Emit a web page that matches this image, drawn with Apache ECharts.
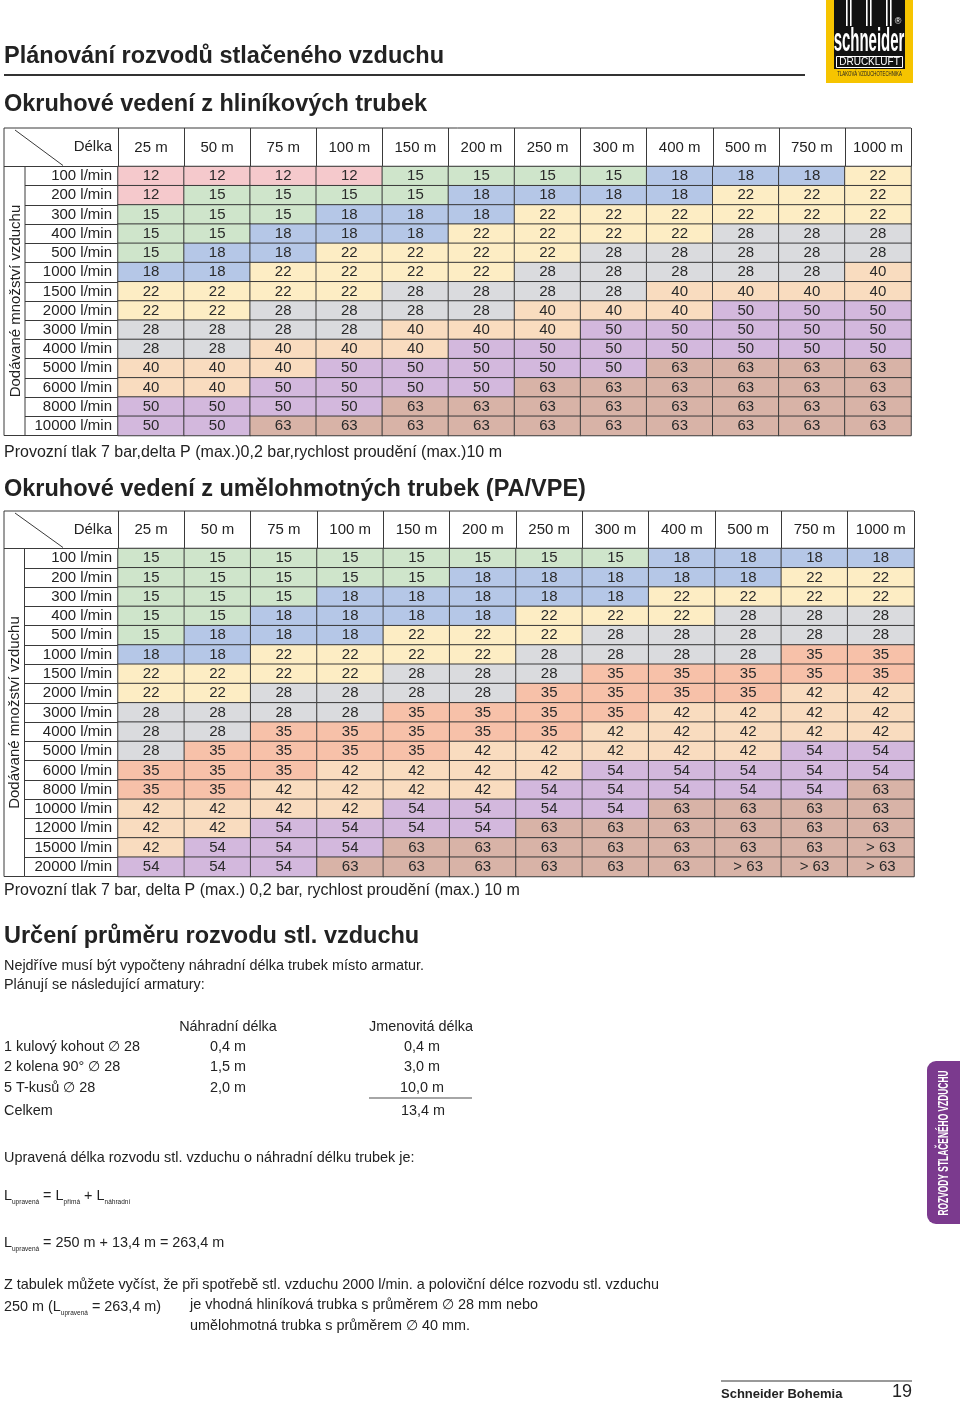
<!DOCTYPE html>
<html><head><meta charset="utf-8">
<script src="https://cdn.jsdelivr.net/npm/echarts@6/dist/echarts.min.js"></script>
<style>html,body{margin:0;padding:0;background:#fff}#c{width:960px;height:1401px}</style>
</head><body><div id="c"></div>
<script>
// ---------- data ----------
const lengths = ['25 m','50 m','75 m','100 m','150 m','200 m','250 m','300 m','400 m','500 m','750 m','1000 m'];
const flowsAlu = ['100 l/min','200 l/min','300 l/min','400 l/min','500 l/min','1000 l/min','1500 l/min','2000 l/min','3000 l/min','4000 l/min','5000 l/min','6000 l/min','8000 l/min','10000 l/min'];
const aluSizes = [
  [12,12,12,12,15,15,15,15,18,18,18,22],
  [12,15,15,15,15,18,18,18,18,22,22,22],
  [15,15,15,18,18,18,22,22,22,22,22,22],
  [15,15,18,18,18,22,22,22,22,28,28,28],
  [15,18,18,22,22,22,22,28,28,28,28,28],
  [18,18,22,22,22,22,28,28,28,28,28,40],
  [22,22,22,22,28,28,28,28,40,40,40,40],
  [22,22,28,28,28,28,40,40,40,50,50,50],
  [28,28,28,28,40,40,40,50,50,50,50,50],
  [28,28,40,40,40,50,50,50,50,50,50,50],
  [40,40,40,50,50,50,50,50,63,63,63,63],
  [40,40,50,50,50,50,63,63,63,63,63,63],
  [50,50,50,50,63,63,63,63,63,63,63,63],
  [50,50,63,63,63,63,63,63,63,63,63,63]
];
const flowsPa = ['100 l/min','200 l/min','300 l/min','400 l/min','500 l/min','1000 l/min','1500 l/min','2000 l/min','3000 l/min','4000 l/min','5000 l/min','6000 l/min','8000 l/min','10000 l/min','12000 l/min','15000 l/min','20000 l/min'];
const paSizes = [
  [15,15,15,15,15,15,15,15,18,18,18,18],
  [15,15,15,15,15,18,18,18,18,18,22,22],
  [15,15,15,18,18,18,18,18,22,22,22,22],
  [15,15,18,18,18,18,22,22,22,28,28,28],
  [15,18,18,18,22,22,22,28,28,28,28,28],
  [18,18,22,22,22,22,28,28,28,28,35,35],
  [22,22,22,22,28,28,28,35,35,35,35,35],
  [22,22,28,28,28,28,35,35,35,35,42,42],
  [28,28,28,28,35,35,35,35,42,42,42,42],
  [28,28,35,35,35,35,35,42,42,42,42,42],
  [28,35,35,35,35,42,42,42,42,42,54,54],
  [35,35,35,42,42,42,42,54,54,54,54,54],
  [35,35,42,42,42,42,54,54,54,54,54,63],
  [42,42,42,42,54,54,54,54,63,63,63,63],
  [42,42,54,54,54,54,63,63,63,63,63,63],
  [42,54,54,54,63,63,63,63,63,63,63,'> 63'],
  [54,54,54,63,63,63,63,63,63,'> 63','> 63','> 63']
];
const fittingNames = ['1 kulový kohout \u2205 28','2 kolena 90° \u2205 28','5 T-kusů \u2205 28'];
const fittingEquiv = ['0,4 m','1,5 m','2,0 m'];
const fittingTotal = ['0,4 m','3,0 m','10,0 m'];
const fittingSum = '13,4 m';

// ---------- styles ----------
const sizeColors = {
  '12':'#f5c9cc','15':'#cfe5cb','18':'#b5c7e7','22':'#fdedc4','28':'#dadbde',
  '35':'#f7c1a9','40':'#f9dcbf','42':'#f9dcbf','50':'#d3b8dd','54':'#d3b8dd',
  '63':'#d8b3a7','> 63':'#d8b3a7'
};
const FONT = "'Liberation Sans', Arial, Helvetica, sans-serif";
const LINE = '#3a3a3a';
const TXT = '#222';
const BODY = 14.4;

function cells(rows){
  const out = [];
  rows.forEach((row, r) => row.forEach((v, c) => {
    out.push({ value:[c, r, typeof v === 'number' ? v : 64], txt:String(v),
      itemStyle:{ color: sizeColors[String(v)] } });
  }));
  return out;
}

const tables = [
  { L:118, T:166.5, R:911, B:435.5, H:128, inner:25, rows:flowsAlu, data:aluSizes },
  { L:118, T:548.5, R:914, B:876.5, H:511, inner:24.5, rows:flowsPa, data:paSizes }
];

const grid = [], xAxis = [], yAxis = [], series = [], els = [];
function line(x1,y1,x2,y2,stroke,w){ els.push({type:'line', silent:true, shape:{x1,y1,x2,y2}, style:{stroke:stroke||LINE, lineWidth:w||1}}); }
function text(x,y,t,size,o){
  o = o || {};
  els.push({type:'text', silent:true, x, y, rotation:o.rot||0, scaleX:o.sx||1,
    style:{text:t, fontSize:size, fontFamily:FONT, fontWeight:o.bold?'bold':'normal',
      fill:o.fill||TXT, align:o.align||'left', verticalAlign:'middle', rich:o.rich}});
}

tables.forEach((t, i) => {
  grid.push({ left:t.L, top:t.T, width:t.R-t.L, height:t.B-t.T });
  xAxis.push({ type:'category', gridIndex:i, data:lengths, position:'top',
    axisLine:{show:true, lineStyle:{color:LINE, width:1}},
    axisTick:{show:true, interval:0, length:t.T-t.H, lineStyle:{color:LINE, width:1}},
    axisLabel:{interval:0, margin:11, fontSize:15, fontFamily:FONT, color:TXT},
    splitLine:{show:false} });
  yAxis.push({ type:'category', gridIndex:i, data:t.rows, inverse:true,
    axisLine:{show:true, lineStyle:{color:LINE, width:1}},
    axisTick:{show:true, interval:0, length:t.L-t.inner, lineStyle:{color:LINE, width:1}},
    axisLabel:{interval:0, margin:6, fontSize:15, fontFamily:FONT, color:TXT},
    splitLine:{show:false} });
  series.push({ type:'heatmap', xAxisIndex:i, yAxisIndex:i, data:cells(t.data),
    silent:true, emphasis:{disabled:true},
    itemStyle:{borderColor:LINE, borderWidth:1},
    label:{show:true, formatter:p => p.data.txt, fontSize:15, fontFamily:FONT, color:'#2a2a2a'} });
  // frame pieces outside the axes
  line(4, t.H, t.R, t.H);
  line(4, t.H, 4, t.B);
  line(t.inner, t.T, t.inner, t.B);
  line(4, t.T, t.L, t.T);
  line(4, t.B, t.inner, t.B);
  line(15, t.H+2, 63, t.T-1);
  text(t.L-6, (t.H+t.T)/2, 'Délka', 15, {align:'right'});
  text((4+t.inner)/2+1, (t.T+t.B)/2, 'Dodávané množství vzduchu', 15, {align:'center', rot:Math.PI/2});
});

// headings
text(4, 57, 'Plánování rozvodů stlačeného vzduchu', 23.5, {bold:true});
line(4, 75, 805, 75, '#333', 2);
text(4, 105, 'Okruhové vedení z hliníkových trubek', 23.5, {bold:true});
text(4, 453, 'Provozní tlak 7 bar,delta P (max.)0,2 bar,rychlost proudění (max.)10 m', 16);
text(4, 490, 'Okruhové vedení z umělohmotných trubek (PA/VPE)', 23.5, {bold:true});
text(4, 891, 'Provozní tlak 7 bar, delta P (max.) 0,2 bar, rychlost proudění (max.) 10 m', 16);
text(4, 937, 'Určení průměru rozvodu stl. vzduchu', 23.5, {bold:true});
text(4, 966, 'Nejdříve musí být vypočteny náhradní délka trubek místo armatur.', BODY);
text(4, 985, 'Plánují se následující armatury:', BODY);
text(228, 1027, 'Náhradní délka', BODY, {align:'center'});
text(421, 1027, 'Jmenovitá délka', BODY, {align:'center'});
fittingNames.forEach((n, k) => {
  const y = 1047 + k*20.3;
  text(4, y, n, BODY);
  text(228, y, fittingEquiv[k], BODY, {align:'center'});
  text(422, y, fittingTotal[k], BODY, {align:'center'});
});
line(369, 1098, 472, 1098, '#888', 1.5);
text(4, 1111, 'Celkem', BODY);
text(423, 1111, fittingSum, BODY, {align:'center'});
text(4, 1158, 'Upravená délka rozvodu stl. vzduchu o náhradní délku trubek je:', BODY);
const subRich = { s:{fontSize:6.5, fontFamily:FONT, fill:TXT, verticalAlign:'bottom', lineHeight:20},
                  n:{fontSize:BODY, fontFamily:FONT, fill:TXT, lineHeight:20} };
text(4, 1196, '{n|L}{s|upravená}{n| = L}{s|přímá}{n| + L}{s|náhradní}', BODY, {rich:subRich});
text(4, 1243, '{n|L}{s|upravená}{n| = 250 m + 13,4 m = 263,4 m}', BODY, {rich:subRich});
text(4, 1285, 'Z tabulek můžete vyčíst, že při spotřebě stl. vzduchu 2000 l/min. a poloviční délce rozvodu stl. vzduchu', BODY);
text(4, 1307, '{n|250 m (L}{s|upravená}{n| = 263,4 m)}', BODY, {rich:subRich});
text(190, 1305, 'je vhodná hliníková trubka s průměrem \u2205 28 mm nebo', BODY);
text(190, 1326, 'umělohmotná trubka s průměrem \u2205 40 mm.', BODY);

// logo
els.push({type:'rect', silent:true, shape:{x:826, y:0, width:87, height:83}, style:{fill:'#f6c400'}});
els.push({type:'rect', silent:true, shape:{x:834, y:0, width:71, height:69}, style:{fill:'#111'}});
[846, 850, 866, 870, 886, 890].forEach(x => els.push({type:'rect', silent:true, shape:{x:x, y:0, width:1.6, height:26}, style:{fill:'#fff'}}));
text(869, 42, 'schneider', 34, {bold:true, fill:'#fff', align:'center', sx:0.44});
text(898, 22, '®', 9, {fill:'#fff', align:'center'});
els.push({type:'rect', silent:true, shape:{x:836.5, y:56.5, width:66, height:11}, style:{fill:'none', stroke:'#fff', lineWidth:1}});
text(869.5, 62.5, 'DRUCKLUFT', 10, {fill:'#fff', align:'center'});
text(869.5, 74, 'TLAKOVÁ VZDUCHOTECHNIKA', 7, {fill:'#222', align:'center', sx:0.62});

// side tab
els.push({type:'rect', silent:true, shape:{x:927, y:1061, width:40, height:163, r:[9,0,0,9]}, style:{fill:'#7b3a8e'}});
text(944, 1143, 'ROZVODY STLAČENÉHO VZDUCHU', 14, {bold:true, fill:'#fff', align:'center', rot:Math.PI/2, sx:0.6});

// footer
line(721, 1381, 912, 1381, '#777', 1.5);
text(721, 1394, 'Schneider Bohemia', 13, {bold:true});
text(912, 1392, '19', 18, {align:'right'});

const chart = echarts.init(document.getElementById('c'), null, {renderer:'canvas'});
chart.setOption({
  animation:false, backgroundColor:'#fff',
  grid, xAxis, yAxis, series,
  graphic:{elements:els}
});
</script></body></html>
